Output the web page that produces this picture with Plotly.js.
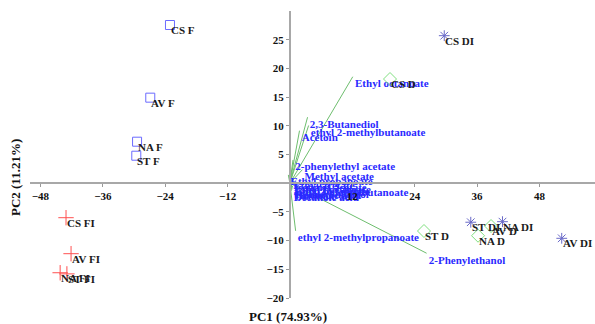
<!DOCTYPE html>
<html>
<head>
<meta charset="utf-8">
<script src="https://cdn.plot.ly/plotly-3.0.1.min.js"></script>
<style>html,body{margin:0;padding:0;background:#fff}#chart{width:595px;height:324px}</style>
</head>
<body>
<div id="chart"></div>
<script>
// Sample scores (PC1, PC2)
const fNames = ["CS F", "AV F", "NA F", "ST F"];
const fX = [-23.07, -26.86, -29.4, -29.55];
const fY = [27.56, 14.9, 7.23, 4.79];

const fiNames = ["CS FI", "AV FI", "NA FI", "ST FI"];
const fiX = [-43.07, -42.1, -44.2, -42.9];
const fiY = [-6.01, -12.28, -15.6, -15.8];

const dNames = ["CS D", "ST D", "NA D", "AV D"];
const dX = [19.26, 25.8, 36.2, 38.7];
const dY = [18.15, -8.33, -9.15, -7.46];

const diNames = ["CS DI", "ST DI", "NA DI", "AV DI"];
const diX = [29.7, 34.8, 40.9, 52.3];
const diY = [25.7, -6.8, -6.7, -9.6];

// Loadings (compound vectors)
const loadNames = ["Ethyl octanoate", "2,3-Butanediol", "ethyl 2-methylbutanoate", "Acetoin",
  "2-phenylethyl acetate", "Methyl acetate", "Ethyl propanoate", "Ethyl acetate",
  "Isoamyl acetate", "Ethyl hexanoate", "Ethyl butanoate", "ethyl 3-methylbutanoate",
  "Isoamyl alcohol", "Hexanoic acid", "Octanoic acid", "Decanoic acid",
  "ethyl 2-methylpropanoate", "2-Phenylethanol"];
const loadX = [12.1, 3.4, 3.6, 1.85, 0.6, 2.4, -0.3, 0.2, 0.3, 0.5, 0.4, 0.3, 0.6, 0.5, 0.4, 0.3, 1.1, 26.3];
const loadY = [18.55, 11.5, 10.05, 9.15, 4.05, 2.35, 1.45, 0.9, 0.5, 0.1, -0.3, -0.4, -0.7, -0.9, -1.1, -1.3, -8.3, -12.2];

const xTicks = [-48, -36, -24, -12, 12, 24, 36, 48];
const yTicks = [-20, -15, -10, -5, 5, 10, 15, 20, 25];

const serif = "Liberation Serif, Times New Roman, serif";

// build loading line segments from origin
const segX = [], segY = [];
for (let i = 0; i < loadX.length; i++) {
  segX.push(0, loadX[i], null);
  segY.push(0, loadY[i], null);
}

const sampleFont = {family: serif, size: 11, color: "#1a1a1a", weight: 700};

const traces = [
  {x: segX, y: segY, mode: "lines", line: {color: "rgb(110,190,110)", width: 1}, hoverinfo: "skip"},
  {x: loadX, y: loadY, text: loadNames, mode: "markers+text", textposition: "bottom right",
   marker: {size: 2, color: "rgba(0,0,0,0)"},
   textfont: {family: serif, size: 11, color: "#2a2aff", weight: 700}},
  {x: fX, y: fY, mode: "markers",
   marker: {symbol: "square-open", size: 9, color: "#6b6bff", line: {width: 1}}},
  {x: fiX, y: fiY, mode: "markers",
   marker: {symbol: "cross-thin", size: 11, color: "#ff5050", line: {width: 1, color: "#ff5050"}}},
  {x: dX, y: dY, mode: "markers",
   marker: {symbol: "diamond-open", size: 10, color: "#80e080", line: {width: 1}}},
  {x: diX, y: diY, mode: "markers",
   marker: {symbol: "asterisk", size: 9, color: "#6a6ac8", line: {width: 1, color: "#6a6ac8"}}}
];

const sampleAnn = [];
[[fNames, fX, fY], [fiNames, fiX, fiY], [dNames, dX, dY], [diNames, diX, diY]].forEach(g => {
  g[0].forEach((t, i) => {
    sampleAnn.push({text: t, x: g[1][i], y: g[2][i], xref: "x", yref: "y", showarrow: false,
      xanchor: "left", yanchor: "top", xshift: 0, yshift: 2, borderpad: 0, font: sampleFont});
  });
});

const tickFont = {family: serif, size: 11, color: "#111", weight: 700};

const layout = {
  width: 595, height: 324,
  margin: {l: 30, r: 0, t: 11, b: 26},
  paper_bgcolor: "#fff", plot_bgcolor: "#fff",
  showlegend: false,
  xaxis: {range: [-50, 58.7], anchor: "free", position: 0.4, tickvals: xTicks,
    ticks: "outside", ticklen: 3, tickcolor: "#999", showline: true, linecolor: "#a8a8a8", linewidth: 2,
    showgrid: false, zeroline: false, tickfont: tickFont},
  yaxis: {range: [-20, 30], anchor: "free", position: 0.46, tickvals: yTicks,
    ticks: "outside", ticklen: 3, tickcolor: "#999", showline: true, linecolor: "#a8a8a8", linewidth: 2,
    showgrid: false, zeroline: false, tickfont: tickFont},
  annotations: [
    {text: "PC1 (74.93%)", xref: "paper", yref: "paper", x: 0.4566, y: -0.063, showarrow: false,
     xanchor: "center", yanchor: "middle", font: {family: serif, size: 13, color: "#111", weight: 700}},
    {text: "PC2 (11.21%)", xref: "paper", yref: "paper", x: -0.0265, y: 0.418, showarrow: false, textangle: -90,
     xanchor: "center", yanchor: "middle", font: {family: serif, size: 13, color: "#111", weight: 700}}
  ].concat(sampleAnn)
};

Plotly.newPlot("chart", traces, layout, {displayModeBar: false, staticPlot: true});
</script>
</body>
</html>
